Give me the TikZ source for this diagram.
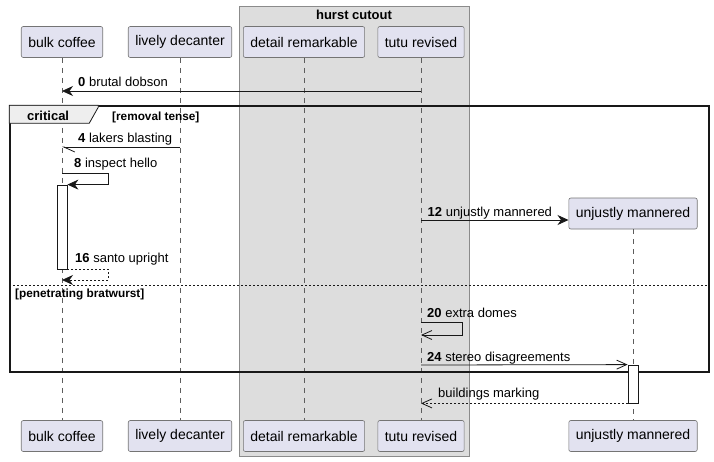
\documentclass[tikz,border=0pt]{standalone}
\usepackage{fontspec}
\setmainfont{Liberation Sans}
\usetikzlibrary{positioning,arrows.meta}
\definecolor{partfill}{HTML}{E2E2F0}
\definecolor{partdraw}{HTML}{181818}
\definecolor{cutfill}{HTML}{DDDDDD}
\definecolor{tabfill}{HTML}{EEEEEE}
\tikzset{part node/.style={rectangle,rounded corners=2pt,fill=partfill,draw=partdraw!60,line width=0.6pt,minimum height=31pt,inner xsep=7pt,font=\fontsize{14}{16}\selectfont},
            life line/.style={draw=partdraw!70,dash pattern=on 5pt off 5pt,line width=0.6pt},
            act bar/.style={rectangle,draw=partdraw,fill=white,line width=0.8pt,minimum width=10pt,inner sep=0pt},
            msg/.style={draw=partdraw,line width=0.8pt,-{Stealth[length=11pt,width=10pt,inset=3.5pt]}},
            open msg/.style={draw=partdraw,line width=0.8pt,-{Straight Barb[length=10pt,width=9pt]}},
            half msg/.style={draw=partdraw,line width=0.8pt,-{Straight Barb[harpoon,length=11pt,width=10pt]}},
            msg label/.style={font=\fontsize{13}{15}\selectfont,anchor=base west,inner sep=0pt},
            guard/.style={font=\bfseries\fontsize{11.8}{13}\selectfont,anchor=base west,inner sep=0pt},
            }

\begin{document}
\begin{tikzpicture}[x=1pt,y=-1pt]
    \useasboundingbox (0,0) rectangle (714,461);

    % box round two participants
    \node[rectangle,fill=cutfill,draw=partdraw!50,line width=0.6pt,minimum width=230pt,minimum height=450pt,inner sep=0pt] (cutout) at (354,231) {};
    \node[font=\bfseries\fontsize{13}{15}\selectfont,anchor=base,inner sep=0pt] (cuttitle) at (354,19) {hurst cutout};

    % participants
    \node[part node] (bulk) at (62,42) {bulk coffee};
    \node[part node] (lively) at (180,42) {lively decanter};
    \node[part node] (detail) at (304,42) {detail remarkable};
    \node[part node] (tutu) at (421,42) {tutu revised};
    \node[part node] (unj) at (633,213.5) {unjustly mannered};

    \node[part node] (bulkB) at (62,436) {bulk coffee};
    \node[part node] (livelyB) at (180,436) {lively decanter};
    \node[part node] (detailB) at (304,436) {detail remarkable};
    \node[part node] (tutuB) at (421,436) {tutu revised};
    \node[part node] (unjB) at (633,436) {unjustly mannered};

    \path[life line]
    (bulk) edge (bulkB)
    (lively) edge (livelyB)
    (detail) edge (detailB)
    (tutu) edge (tutuB)
    (unj) edge (unjB);

    % rows
    \coordinate (r0) at (0,91);
    \coordinate (r4) at (0,147);
    \coordinate (r8) at (0,173);
    \coordinate (r12) at (0,220);
    \coordinate (r16) at (0,280);
    \coordinate (relse) at (0,285);
    \coordinate (r20) at (0,322);
    \coordinate (r20b) at (0,335);
    \coordinate (r24) at (0,365);

    % critical frame
    \node[rectangle,draw=partdraw,line width=1.5pt,minimum width=699pt,minimum height=266pt,inner sep=0pt] (crit) at (359.5,239) {};
    \draw[fill=tabfill,draw=partdraw,line width=0.8pt] (crit.north west) -- ++(89,0) -- ++(0,2) -- ++(-9,16) -- ++(-80,0) -- cycle;
    \node[font=\bfseries\fontsize{13}{15}\selectfont,anchor=base west,inner sep=0pt] (crittitle) at (27,120) {critical};
    \node[guard] (g1) at (112,120) {[removal tense]};
    \draw[draw=partdraw,line width=0.8pt,dash pattern=on 2pt off 2pt] (crit.west |- relse) -- (crit.east |- relse);
    \node[guard] (g2) at (15,297) {[penetrating bratwurst]};

    % activations
    \node[act bar,minimum height=84pt] (actA) at (62,227) {};
    \node[act bar,minimum height=38pt] (actB) at (633,384) {};

    % messages
    \draw[msg] (tutu |- r0) -- (bulk |- r0);
    \node[msg label] (l0) at (78,86) {\textbf{0} brutal dobson};

    \draw[half msg] (lively |- r4) -- (bulk |- r4);
    \node[msg label] (l4) at (78,142) {\textbf{4} lakers blasting};

    \draw[msg] (bulk |- r8) -- ++(46,0) |- (actA.north east);
    \node[msg label] (l8) at (74,167) {\textbf{8} inspect hello};

    \draw[msg] (tutu |- r12) -- (unj.west |- r12);
    \node[msg label] (l12) at (427.5,216) {\textbf{12} unjustly mannered};

    \draw[msg,dash pattern=on 2pt off 2pt] (actA.south east) -- ++(41,0) |- (bulk |- r16);
    \node[msg label] (l16) at (75,262) {\textbf{16} santo upright};

    \draw[open msg] (tutu |- r20) -- ++(41,0) |- (tutu |- r20b);
    \node[msg label] (l20) at (427,317) {\textbf{20} extra domes};

    \draw[open msg] (tutu |- r24) -- (actB.north west);
    \node[msg label] (l24) at (427,361) {\textbf{24} stereo disagreements};

    \draw[open msg,dash pattern=on 2pt off 2pt] (actB.south west) -- (tutu |- actB.south);
    \node[msg label] (lret) at (438,397) {buildings marking};

\end{tikzpicture}
\end{document}
